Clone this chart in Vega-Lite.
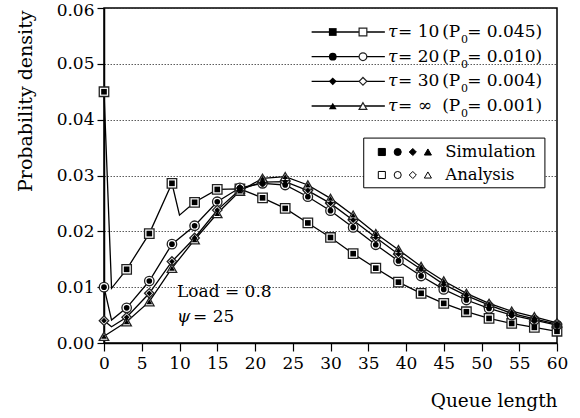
{
  "$schema": "https://vega.github.io/schema/vega-lite/v6.json",
  "width": 453,
  "height": 335,
  "autosize": "none",
  "padding": {"left": 104, "top": 8, "right": 23, "bottom": 75},
  "background": "white",
  "config": {
    "view": {"stroke": "black", "strokeWidth": 1.5},
    "font": "DejaVu Serif",
    "text": {"font": "DejaVu Serif", "color": "black"}
  },
  "datasets": {
    "curve": [
      {"tau": "10", "q": 0, "p": 0.045}, {"tau": "10", "q": 1, "p": 0.0098}, {"tau": "10", "q": 3, "p": 0.0132}, {"tau": "10", "q": 6, "p": 0.0196}, {"tau": "10", "q": 9, "p": 0.0286}, {"tau": "10", "q": 10, "p": 0.0229}, {"tau": "10", "q": 12, "p": 0.0252}, {"tau": "10", "q": 15, "p": 0.0275}, {"tau": "10", "q": 18, "p": 0.0276}, {"tau": "10", "q": 21, "p": 0.026}, {"tau": "10", "q": 24, "p": 0.0241}, {"tau": "10", "q": 27, "p": 0.0215}, {"tau": "10", "q": 30, "p": 0.0189}, {"tau": "10", "q": 33, "p": 0.016}, {"tau": "10", "q": 36, "p": 0.0134}, {"tau": "10", "q": 39, "p": 0.0109}, {"tau": "10", "q": 42, "p": 0.0089}, {"tau": "10", "q": 45, "p": 0.0071}, {"tau": "10", "q": 48, "p": 0.0056}, {"tau": "10", "q": 51, "p": 0.0044}, {"tau": "10", "q": 54, "p": 0.0035}, {"tau": "10", "q": 57, "p": 0.0028}, {"tau": "10", "q": 60, "p": 0.0021},
      {"tau": "20", "q": 0, "p": 0.010}, {"tau": "20", "q": 1, "p": 0.0041}, {"tau": "20", "q": 3, "p": 0.0063}, {"tau": "20", "q": 6, "p": 0.0111}, {"tau": "20", "q": 9, "p": 0.0177}, {"tau": "20", "q": 12, "p": 0.021}, {"tau": "20", "q": 15, "p": 0.0253}, {"tau": "20", "q": 18, "p": 0.0278}, {"tau": "20", "q": 21, "p": 0.0286}, {"tau": "20", "q": 24, "p": 0.0283}, {"tau": "20", "q": 27, "p": 0.0262}, {"tau": "20", "q": 30, "p": 0.0237}, {"tau": "20", "q": 33, "p": 0.0207}, {"tau": "20", "q": 36, "p": 0.0176}, {"tau": "20", "q": 39, "p": 0.0147}, {"tau": "20", "q": 42, "p": 0.012}, {"tau": "20", "q": 45, "p": 0.0096}, {"tau": "20", "q": 48, "p": 0.0077}, {"tau": "20", "q": 51, "p": 0.0062}, {"tau": "20", "q": 54, "p": 0.005}, {"tau": "20", "q": 57, "p": 0.0041}, {"tau": "20", "q": 60, "p": 0.0032},
      {"tau": "30", "q": 0, "p": 0.004}, {"tau": "30", "q": 1, "p": 0.0029}, {"tau": "30", "q": 3, "p": 0.0046}, {"tau": "30", "q": 6, "p": 0.0089}, {"tau": "30", "q": 9, "p": 0.0146}, {"tau": "30", "q": 12, "p": 0.0188}, {"tau": "30", "q": 15, "p": 0.0238}, {"tau": "30", "q": 18, "p": 0.0275}, {"tau": "30", "q": 21, "p": 0.0288}, {"tau": "30", "q": 24, "p": 0.0289}, {"tau": "30", "q": 27, "p": 0.0273}, {"tau": "30", "q": 30, "p": 0.025}, {"tau": "30", "q": 33, "p": 0.022}, {"tau": "30", "q": 36, "p": 0.0189}, {"tau": "30", "q": 39, "p": 0.0159}, {"tau": "30", "q": 42, "p": 0.0132}, {"tau": "30", "q": 45, "p": 0.0105}, {"tau": "30", "q": 48, "p": 0.0085}, {"tau": "30", "q": 51, "p": 0.0068}, {"tau": "30", "q": 54, "p": 0.0053}, {"tau": "30", "q": 57, "p": 0.0043}, {"tau": "30", "q": 60, "p": 0.0034},
      {"tau": "inf", "q": 0, "p": 0.0012}, {"tau": "inf", "q": 3, "p": 0.0038}, {"tau": "inf", "q": 6, "p": 0.0074}, {"tau": "inf", "q": 9, "p": 0.0134}, {"tau": "inf", "q": 12, "p": 0.0185}, {"tau": "inf", "q": 15, "p": 0.0232}, {"tau": "inf", "q": 18, "p": 0.0272}, {"tau": "inf", "q": 21, "p": 0.0295}, {"tau": "inf", "q": 24, "p": 0.0298}, {"tau": "inf", "q": 27, "p": 0.0283}, {"tau": "inf", "q": 30, "p": 0.0259}, {"tau": "inf", "q": 33, "p": 0.0229}, {"tau": "inf", "q": 36, "p": 0.0196}, {"tau": "inf", "q": 39, "p": 0.0167}, {"tau": "inf", "q": 42, "p": 0.0137}, {"tau": "inf", "q": 45, "p": 0.0111}, {"tau": "inf", "q": 48, "p": 0.0089}, {"tau": "inf", "q": 51, "p": 0.0071}, {"tau": "inf", "q": 54, "p": 0.0057}, {"tau": "inf", "q": 57, "p": 0.0047}, {"tau": "inf", "q": 60, "p": 0.0036}
    ],
    "sim": [
      {"tau": "10", "q": 0, "p": 0.045}, {"tau": "10", "q": 3, "p": 0.0132}, {"tau": "10", "q": 6, "p": 0.0196}, {"tau": "10", "q": 9, "p": 0.0286}, {"tau": "10", "q": 12, "p": 0.0252}, {"tau": "10", "q": 15, "p": 0.0275}, {"tau": "10", "q": 18, "p": 0.0276}, {"tau": "10", "q": 21, "p": 0.026}, {"tau": "10", "q": 24, "p": 0.0241}, {"tau": "10", "q": 27, "p": 0.0215}, {"tau": "10", "q": 30, "p": 0.0189}, {"tau": "10", "q": 33, "p": 0.016}, {"tau": "10", "q": 36, "p": 0.0134}, {"tau": "10", "q": 39, "p": 0.0109}, {"tau": "10", "q": 42, "p": 0.0089}, {"tau": "10", "q": 45, "p": 0.0071}, {"tau": "10", "q": 48, "p": 0.0056}, {"tau": "10", "q": 51, "p": 0.0044}, {"tau": "10", "q": 54, "p": 0.0035}, {"tau": "10", "q": 57, "p": 0.0028}, {"tau": "10", "q": 60, "p": 0.0021},
      {"tau": "20", "q": 0, "p": 0.010}, {"tau": "20", "q": 3, "p": 0.0063}, {"tau": "20", "q": 6, "p": 0.0111}, {"tau": "20", "q": 9, "p": 0.0177}, {"tau": "20", "q": 12, "p": 0.021}, {"tau": "20", "q": 15, "p": 0.0253}, {"tau": "20", "q": 18, "p": 0.0278}, {"tau": "20", "q": 21, "p": 0.0286}, {"tau": "20", "q": 24, "p": 0.0283}, {"tau": "20", "q": 27, "p": 0.0262}, {"tau": "20", "q": 30, "p": 0.0237}, {"tau": "20", "q": 33, "p": 0.0207}, {"tau": "20", "q": 36, "p": 0.0176}, {"tau": "20", "q": 39, "p": 0.0147}, {"tau": "20", "q": 42, "p": 0.012}, {"tau": "20", "q": 45, "p": 0.0096}, {"tau": "20", "q": 48, "p": 0.0077}, {"tau": "20", "q": 51, "p": 0.0062}, {"tau": "20", "q": 54, "p": 0.005}, {"tau": "20", "q": 57, "p": 0.0041}, {"tau": "20", "q": 60, "p": 0.0032},
      {"tau": "30", "q": 0, "p": 0.004}, {"tau": "30", "q": 3, "p": 0.0046}, {"tau": "30", "q": 6, "p": 0.0089}, {"tau": "30", "q": 9, "p": 0.0146}, {"tau": "30", "q": 12, "p": 0.0188}, {"tau": "30", "q": 15, "p": 0.0238}, {"tau": "30", "q": 18, "p": 0.0275}, {"tau": "30", "q": 21, "p": 0.0288}, {"tau": "30", "q": 24, "p": 0.0289}, {"tau": "30", "q": 27, "p": 0.0273}, {"tau": "30", "q": 30, "p": 0.025}, {"tau": "30", "q": 33, "p": 0.022}, {"tau": "30", "q": 36, "p": 0.0189}, {"tau": "30", "q": 39, "p": 0.0159}, {"tau": "30", "q": 42, "p": 0.0132}, {"tau": "30", "q": 45, "p": 0.0105}, {"tau": "30", "q": 48, "p": 0.0085}, {"tau": "30", "q": 51, "p": 0.0068}, {"tau": "30", "q": 54, "p": 0.0053}, {"tau": "30", "q": 57, "p": 0.0043}, {"tau": "30", "q": 60, "p": 0.0034},
      {"tau": "inf", "q": 0, "p": 0.0012}, {"tau": "inf", "q": 3, "p": 0.0038}, {"tau": "inf", "q": 6, "p": 0.0074}, {"tau": "inf", "q": 9, "p": 0.0134}, {"tau": "inf", "q": 12, "p": 0.0185}, {"tau": "inf", "q": 15, "p": 0.0232}, {"tau": "inf", "q": 18, "p": 0.0272}, {"tau": "inf", "q": 21, "p": 0.0295}, {"tau": "inf", "q": 24, "p": 0.0298}, {"tau": "inf", "q": 27, "p": 0.0283}, {"tau": "inf", "q": 30, "p": 0.0259}, {"tau": "inf", "q": 33, "p": 0.0229}, {"tau": "inf", "q": 36, "p": 0.0196}, {"tau": "inf", "q": 39, "p": 0.0167}, {"tau": "inf", "q": 42, "p": 0.0137}, {"tau": "inf", "q": 45, "p": 0.0111}, {"tau": "inf", "q": 48, "p": 0.0089}, {"tau": "inf", "q": 51, "p": 0.0071}, {"tau": "inf", "q": 54, "p": 0.0057}, {"tau": "inf", "q": 57, "p": 0.0047}, {"tau": "inf", "q": 60, "p": 0.0036}
    ],
    "leg1": [
      {"tau": "10", "eq": "= 10", "p0": "= 0.045)"},
      {"tau": "20", "eq": "= 20", "p0": "= 0.010)"},
      {"tau": "30", "eq": "= 30", "p0": "= 0.004)"},
      {"tau": "inf", "eq": "= \u221e", "p0": "= 0.001)"}
    ],
    "leg2": [
      {"tau": "10", "kind": "Simulation"}, {"tau": "20", "kind": "Simulation"}, {"tau": "30", "kind": "Simulation"}, {"tau": "inf", "kind": "Simulation"},
      {"tau": "10", "kind": "Analysis"}, {"tau": "20", "kind": "Analysis"}, {"tau": "30", "kind": "Analysis"}, {"tau": "inf", "kind": "Analysis"}
    ]
  },
  "layer": [
    {
      "layer": [
        {
          "data": {"name": "curve"},
          "mark": {"type": "line", "color": "black", "strokeWidth": 1.3},
          "encoding": {
            "x": {"field": "q", "type": "quantitative", "scale": {"domain": [0, 60], "nice": false},
              "axis": {"values": [0, 5, 10, 15, 20, 25, 30, 35, 40, 45, 50, 55, 60], "tickCount": 13, "title": "Queue length", "grid": false,
                "domainColor": "black", "domainWidth": 1.5, "tickColor": "black", "tickSize": 8, "tickWidth": 1.2,
                "labelFont": "DejaVu Serif", "labelFontSize": 17, "labelColor": "black", "labelPadding": 4, "labelFlush": false, "labelOverlap": false,
                "titleFont": "DejaVu Serif", "titleFontSize": 18.5, "titleFontWeight": "normal", "titleColor": "black",
                "titleX": 453, "titleY": 57, "titleAlign": "right", "titleBaseline": "middle"}},
            "y": {"field": "p", "type": "quantitative", "scale": {"domain": [0, 0.06], "nice": false},
              "axis": {"values": [0, 0.005, 0.01, 0.015, 0.02, 0.025, 0.03, 0.035, 0.04, 0.045, 0.05, 0.055, 0.06],
                "labelExpr": "round(datum.value*1000) % 10 == 0 ? format(datum.value, '.2f') : ''",
                "title": "Probability density", "grid": true, "labelOverlap": false,
                "gridColor": "#333", "gridDash": [1.5, 1.5], "gridWidth": 0.8,
                "gridOpacity": {"condition": {"test": "round(datum.value*1000) % 10 == 0", "value": 1}, "value": 0},
                "domainColor": "black", "domainWidth": 1.5, "tickColor": "black", "tickWidth": 1.2,
                "tickSize": {"condition": {"test": "round(datum.value*1000) % 10 == 0", "value": 7}, "value": 4},
                "labelOffset": {"condition": {"test": "datum.value >= 0.059", "value": 2}, "value": 0},
                "labelFont": "DejaVu Serif", "labelFontSize": 17, "labelColor": "black", "labelPadding": 3, "labelFlush": false,
                "titleFont": "DejaVu Serif", "titleFontSize": 19, "titleFontWeight": "normal", "titleColor": "black",
                "titleAngle": 270, "titleX": -79, "titleY": 2, "titleAlign": "right", "titleBaseline": "middle"}},
            "detail": {"field": "tau"}
          }
        },
        {
          "data": {"name": "sim"},
          "mark": {"type": "point", "fill": "white", "stroke": "#222", "strokeWidth": 1.3, "size": 90, "opacity": 1},
          "encoding": {
            "x": {"field": "q", "type": "quantitative"},
            "y": {"field": "p", "type": "quantitative"},
            "shape": {"field": "tau", "type": "nominal", "scale": {"domain": ["10", "20", "30", "inf"], "range": ["square", "circle", "diamond", "triangle-up"]}, "legend": null}
          }
        },
        {
          "data": {"name": "sim"},
          "mark": {"type": "point", "filled": true, "color": "black", "size": 32, "opacity": 1},
          "encoding": {
            "x": {"field": "q", "type": "quantitative"},
            "y": {"field": "p", "type": "quantitative"},
            "shape": {"field": "tau", "type": "nominal", "legend": null}
          }
        },
        {
          "data": {"values": [{"t": "Load = 0.8"}]},
          "mark": {"type": "text", "align": "left", "baseline": "middle", "fontSize": 17, "font": "DejaVu Serif"},
          "encoding": {"x": {"datum": 9.67}, "y": {"datum": 0.0091}, "text": {"field": "t"}}
        },
        {
          "data": {"values": [{"t": "\u03c8"}]},
          "mark": {"type": "text", "align": "left", "baseline": "middle", "fontSize": 17, "fontStyle": "italic", "font": "DejaVu Serif"},
          "encoding": {"x": {"datum": 9.67}, "y": {"datum": 0.0047}, "text": {"field": "t"}}
        },
        {
          "data": {"values": [{"t": "= 25"}]},
          "mark": {"type": "text", "align": "left", "baseline": "middle", "fontSize": 17, "font": "DejaVu Serif"},
          "encoding": {"x": {"datum": 11.8}, "y": {"datum": 0.0047}, "text": {"field": "t"}}
        },
        {
          "data": {"values": [{"box": "markers"}]},
          "mark": {"type": "rect", "fill": "white", "stroke": "black", "strokeWidth": 1},
          "encoding": {"x": {"datum": 34.4}, "x2": {"datum": 58.4}, "y": {"datum": 0.0367}, "y2": {"datum": 0.0278}}
        }
      ]
    },
    {
      "data": {"name": "leg1"},
      "encoding": {
        "y": {"field": "tau", "type": "ordinal", "scale": {"type": "point", "domain": ["10", "20", "30", "inf"], "range": [24, 98], "padding": 0}, "axis": null}
      },
      "layer": [
        {"mark": {"type": "rule", "color": "black", "strokeWidth": 1.3}, "encoding": {"x": {"datum": 27.5}, "x2": {"datum": 37.2}}},
        {"mark": {"type": "point", "fill": "white", "stroke": "#222", "strokeWidth": 1.2, "size": 60, "opacity": 1},
          "encoding": {"x": {"datum": 34.3}, "shape": {"field": "tau", "type": "nominal", "legend": null}}},
        {"mark": {"type": "point", "filled": true, "color": "black", "size": 60, "opacity": 1},
          "encoding": {"x": {"datum": 30.3}, "shape": {"field": "tau", "type": "nominal", "legend": null}}},
        {"mark": {"type": "text", "text": "\u03c4", "fontStyle": "italic", "align": "left", "baseline": "middle", "fontSize": 17, "font": "DejaVu Serif"},
          "encoding": {"x": {"datum": 37.6}}},
        {"mark": {"type": "text", "align": "left", "baseline": "middle", "fontSize": 17, "font": "DejaVu Serif"},
          "encoding": {"x": {"datum": 38.94}, "text": {"field": "eq"}}},
        {"mark": {"type": "text", "text": "(P", "align": "left", "baseline": "middle", "fontSize": 17, "font": "DejaVu Serif"},
          "encoding": {"x": {"datum": 44.8}}},
        {"mark": {"type": "text", "text": "0", "align": "left", "baseline": "middle", "fontSize": 11, "dy": 8, "font": "DejaVu Serif"},
          "encoding": {"x": {"datum": 47.3}}},
        {"mark": {"type": "text", "align": "left", "baseline": "middle", "fontSize": 17, "font": "DejaVu Serif"},
          "encoding": {"x": {"datum": 48.1}, "text": {"field": "p0"}}}
      ]
    },
    {
      "data": {"name": "leg2"},
      "encoding": {
        "y": {"field": "kind", "type": "ordinal", "scale": {"type": "point", "domain": ["Simulation", "Analysis"], "range": [144, 167], "padding": 0}, "axis": null},
        "shape": {"field": "tau", "type": "nominal", "legend": null},
        "fill": {"field": "kind", "type": "nominal", "scale": {"domain": ["Simulation", "Analysis"], "range": ["black", "white"]}, "legend": null}
      },
      "layer": [
        {"transform": [{"filter": "datum.tau == '10'"}], "mark": {"type": "point", "stroke": "black", "strokeWidth": 1, "size": 50, "opacity": 1}, "encoding": {"x": {"datum": 36.8}}},
        {"transform": [{"filter": "datum.tau == '20'"}], "mark": {"type": "point", "stroke": "black", "strokeWidth": 1, "size": 50, "opacity": 1}, "encoding": {"x": {"datum": 38.9}}},
        {"transform": [{"filter": "datum.tau == '30'"}], "mark": {"type": "point", "stroke": "black", "strokeWidth": 1, "size": 50, "opacity": 1}, "encoding": {"x": {"datum": 40.9}}},
        {"transform": [{"filter": "datum.tau == 'inf'"}], "mark": {"type": "point", "stroke": "black", "strokeWidth": 1, "size": 50, "opacity": 1}, "encoding": {"x": {"datum": 42.9}}},
        {"transform": [{"filter": "datum.tau == '10'"}], "mark": {"type": "text", "align": "left", "baseline": "middle", "fontSize": 16.5, "fill": "black", "font": "DejaVu Serif"},
          "encoding": {"x": {"datum": 45.2}, "text": {"field": "kind"}, "fill": {"value": "black"}, "shape": null}}
      ]
    }
  ],
  "resolve": {"scale": {"y": "independent"}}
}
